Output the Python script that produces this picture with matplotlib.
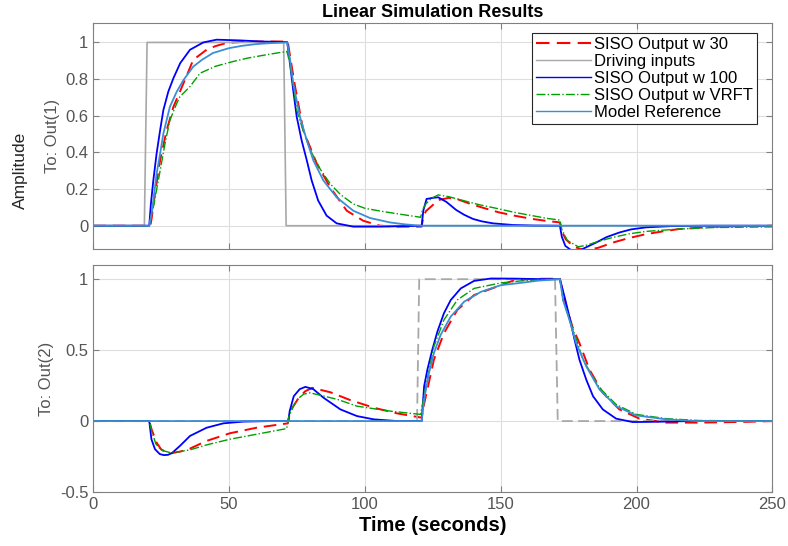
import matplotlib
matplotlib.use("Agg")
import matplotlib.pyplot as plt

plt.rcParams['font.family'] = ['Liberation Sans', 'DejaVu Sans']

# ---- Out(1) ----
t_in1 = [0, 18.8, 19.8, 70.1, 71.0, 250]
u_in1 = [0, 0, 1, 1, 0, 0]

t1_w30 = [0, 21, 21.5, 22.7, 24.6, 27, 29.5, 33.2, 36.8, 41.7, 45, 49, 54, 60, 71.6,
          72.5, 74.3, 77.3, 82.3, 87.2, 93.3, 99.4, 105.6, 112, 120.9,
          121.5, 122.5, 124.8, 127, 130.9, 134, 138.3, 143, 149.3, 155, 161.6, 167, 171.8,
          172.5, 174, 177, 181, 186, 191.3, 197, 203.5, 210, 215.8, 228, 240, 250]
y1_w30 = [0, 0, 0.042, 0.174, 0.357, 0.521, 0.649, 0.777, 0.905, 0.96, 0.98, 0.997, 1.002, 1.005, 1.005,
          0.92, 0.759, 0.521, 0.338, 0.21, 0.082, 0.027, 0.0, -0.005, -0.005,
          0.05, 0.08, 0.11, 0.14, 0.152, 0.145, 0.122, 0.1, 0.073, 0.055, 0.037, 0.026, 0.018,
          -0.03, -0.075, -0.115, -0.135, -0.12, -0.092, -0.068, -0.046, -0.03, -0.018, -0.006, -0.002, 0]

t1_w100 = [0, 20.6, 21.2, 22.1, 23.3, 24.6, 25.8, 27.6, 29.5, 32, 35.6, 40.5, 45.4, 54, 62, 71.4,
           72.4, 73.6, 74.9, 76.7, 78.6, 80.4, 82.8, 85.9, 89.6, 95.7, 105.6, 115, 120.9,
           121.5, 122.7, 125, 127, 130, 133.6, 136.5, 139.8, 143, 147.1, 154.5, 162, 171.8,
           172.5, 173.8, 176.1, 179, 185.1, 189, 193.7, 198, 203.5, 213, 225, 250]
y1_w100 = [0, 0, 0.119, 0.247, 0.393, 0.521, 0.631, 0.731, 0.805, 0.887, 0.96, 1.0, 1.015, 1.011, 1.005, 1.002,
           0.887, 0.74, 0.594, 0.466, 0.357, 0.247, 0.137, 0.055, 0.013, -0.005, -0.005, -0.002, 0,
           0.082, 0.146, 0.152, 0.155, 0.13, 0.086, 0.06, 0.037, 0.024, 0.013, 0.004, 0.001, 0,
           -0.06, -0.11, -0.135, -0.135, -0.092, -0.062, -0.037, -0.02, -0.009, -0.002, 0, 0]

t1_vrft = [0, 20.6, 21.3, 22.1, 24.6, 26.4, 28.2, 30.7, 31.9, 35.6, 39.3, 45, 51.5, 57, 63.8, 71.3,
           72.3, 73.5, 74.9, 77, 80, 83.5, 87.2, 91, 95.7, 100, 105.6, 112, 120.5,
           121.3, 122.5, 124.5, 127, 131, 136.3, 142, 149.3, 155, 161.6, 167, 171.8,
           172.5, 174.5, 178.6, 182, 186, 191.3, 197, 203.5, 215.8, 228, 250]
y1_vrft = [0, 0, 0.05, 0.1, 0.3, 0.448, 0.576, 0.667, 0.704, 0.759, 0.832, 0.87, 0.896, 0.915, 0.933, 0.951,
           0.89, 0.78, 0.631, 0.53, 0.41, 0.31, 0.229, 0.17, 0.119, 0.095, 0.08, 0.065, 0.046,
           0.09, 0.12, 0.15, 0.168, 0.158, 0.137, 0.115, 0.092, 0.073, 0.055, 0.04, 0.031,
           -0.02, -0.08, -0.115, -0.105, -0.085, -0.064, -0.045, -0.031, -0.018, -0.01, -0.006]

t1_ref = [0, 20.6, 21.5, 22.1, 23.3, 24.6, 25.8, 28.2, 30.7, 33.2, 36.8, 40, 44, 50, 55, 60, 65, 71.4,
          72.5, 73.6, 76.1, 78.6, 81, 84.7, 89.6, 95.7, 101.9, 109.2, 115, 121, 250]
y1_ref = [0, 0, 0.07, 0.137, 0.283, 0.393, 0.503, 0.649, 0.731, 0.795, 0.868, 0.905, 0.942, 0.969, 0.982,
          0.991, 0.996, 1.0, 0.9, 0.777, 0.594, 0.466, 0.357, 0.247, 0.155, 0.082, 0.042, 0.018, 0.007, 0, 0]

# ---- Out(2) ----
t_in2 = [0, 119.2, 120, 170, 171, 250]
u_in2 = [0, 0, 1, 1, 0, 0]

t2_w30 = [0, 20.6, 21.5, 23.3, 25, 27, 28.9, 32, 35.6, 41.7, 50.3, 60.1, 71.6,
          72.3, 73.5, 75.5, 78, 80.6, 87.3, 94.7, 103.3, 111.9, 120.9,
          121.8, 123, 125.4, 129.1, 134, 140.2, 150.1, 154.6, 160, 165, 171.8,
          173, 174.5, 176.5, 179, 182.7, 187.6, 193.7, 201.1, 210.9, 223.2, 241.6, 250]
y2_w30 = [0, 0, -0.06, -0.152, -0.2, -0.22, -0.226, -0.215, -0.194, -0.14, -0.086, -0.047, -0.016,
          0.05, 0.1, 0.16, 0.21, 0.234, 0.203, 0.147, 0.094, 0.054, 0.024,
          0.12, 0.222, 0.432, 0.619, 0.783, 0.888, 0.958, 0.99, 1.0, 1.003, 1.003,
          0.9, 0.783, 0.66, 0.549, 0.362, 0.199, 0.082, 0.017, -0.011, -0.011, -0.005, 0]

t2_w100 = [0, 20.6, 21.4, 22.7, 24.5, 26, 27.5, 29, 31.9, 35.6, 41.7, 47.9, 55.2, 65, 71.8,
           72.3, 73.8, 76, 78.1, 81, 84.8, 91, 97.1, 103.3, 111.9, 120.9,
           121.8, 123, 124.8, 126.7, 129.1, 131.6, 135.3, 140.2, 146.4, 155, 163, 171.8,
           173.5, 175.3, 177.2, 179, 181.5, 184, 187.6, 192.5, 198.6, 207.2, 220, 250]
y2_w100 = [0, 0, -0.128, -0.198, -0.233, -0.24, -0.238, -0.225, -0.175, -0.105, -0.047, -0.016, -0.004, 0, 0,
           0.07, 0.175, 0.225, 0.241, 0.225, 0.164, 0.082, 0.035, 0.012, 0, 0,
           0.245, 0.362, 0.502, 0.631, 0.76, 0.853, 0.935, 0.988, 1.005, 1.004, 1.001, 1.0,
           0.876, 0.736, 0.573, 0.432, 0.292, 0.175, 0.082, 0.017, -0.007, -0.005, 0, 0]

t2_vrft = [0, 20.6, 21.5, 23, 25, 28.2, 32, 35.6, 41.7, 50.3, 60.1, 71.2,
           72, 73.5, 75.5, 77.5, 79.8, 84, 90, 97.1, 103, 109.4, 120.5,
           121.5, 123, 125.4, 129.1, 134, 140.2, 150.1, 157.4, 165, 171.8,
           173, 175.3, 177.8, 180.3, 186.4, 192.5, 199.9, 210.9, 223, 250]
y2_vrft = [0, 0, -0.07, -0.16, -0.205, -0.222, -0.215, -0.203, -0.168, -0.128, -0.093, -0.053,
           0.03, 0.1, 0.16, 0.19, 0.199, 0.18, 0.152, 0.105, 0.088, 0.07, 0.047,
           0.15, 0.3, 0.526, 0.713, 0.853, 0.935, 0.974, 0.988, 0.995, 1.0,
           0.85, 0.72, 0.58, 0.432, 0.234, 0.117, 0.047, 0.017, 0.004, 0]

t2_ref = [0, 120.9, 121.8, 123.6, 125.4, 127.9, 131.6, 136.5, 142.7, 150.1, 157.4, 164, 171.8,
          173, 175.3, 177.8, 181.5, 186.4, 192.5, 199.9, 210.9, 222, 250]
y2_ref = [0, 0, 0.152, 0.339, 0.479, 0.608, 0.736, 0.841, 0.911, 0.958, 0.974, 0.99, 1.0,
          0.85, 0.713, 0.549, 0.385, 0.222, 0.105, 0.04, 0.012, 0, 0]

labels = ['SISO Output w 30', 'Driving inputs', 'SISO Output w 100',
          'SISO Output w VRFT', 'Model Reference']
c_red, c_gray, c_blue, c_green, c_ref = '#FF0000', '#A8A8A8', '#0000FF', '#00A000', '#3A8ED6'
label_gray = '#555555'
red_dash = (0, (6.5, 3.5))

fig = plt.figure(figsize=(7.88, 5.46), dpi=100)
ax1 = fig.add_axes([93.3 / 788, 1 - 249 / 546, 679 / 788, 226 / 546])
ax2 = fig.add_axes([93.3 / 788, 1 - 492 / 546, 679 / 788, 227 / 546])

def style(ax):
    ax.set_xlim(0, 250)
    ax.set_xticks([0, 50, 100, 150, 200, 250])
    ax.grid(True, color='#DEDEDE', linewidth=0.8)
    ax.set_axisbelow(True)
    ax.tick_params(direction='in', length=4, top=True, right=True,
                   colors='#808080', labelcolor=label_gray, labelsize=12)
    for s in ax.spines.values():
        s.set_color('#808080')

# top axes
ax1.plot(t1_w30, y1_w30, color=c_red, ls=red_dash, lw=1.4, label=labels[0])
ax1.plot(t_in1, u_in1, color=c_gray, lw=1.2, label=labels[1])
ax1.plot(t1_w100, y1_w100, color=c_blue, lw=1.3, label=labels[2])
ax1.plot(t1_vrft, y1_vrft, color=c_green, ls='-.', lw=1.0, label=labels[3])
ax1.plot(t1_ref, y1_ref, color=c_ref, lw=1.3, label=labels[4])
style(ax1)
ax1.set_ylim(-0.127, 1.106)
ax1.set_yticks([0, 0.2, 0.4, 0.6, 0.8, 1])
ax1.set_yticklabels(['0', '0.2', '0.4', '0.6', '0.8', '1'])
ax1.tick_params(labelbottom=False)
ax1.set_ylabel('To: Out(1)', color=label_gray, fontsize=12, labelpad=4)
ax1.set_title('Linear Simulation Results', fontsize=13, fontweight='bold', pad=4)

leg = ax1.legend(loc='upper right', bbox_to_anchor=(0.978, 0.956), borderaxespad=0,
                 fontsize=12, handlelength=3.3, handletextpad=0.2, labelspacing=0.12,
                 borderpad=0.25, fancybox=False, framealpha=1)
leg.get_frame().set_edgecolor('#262626')
leg.get_frame().set_linewidth(0.8)
# legend lines in MATLAB are thin except the dashed one
for i, ln in enumerate(leg.get_lines()):
    ln.set_linewidth(1.5 if i == 0 else 1.0)

# bottom axes
ax2.plot(t2_w30, y2_w30, color=c_red, ls=red_dash, lw=1.4)
ax2.plot(t_in2, u_in2, color=c_gray, ls=(0, (6, 3)), lw=1.3)
ax2.plot(t2_w100, y2_w100, color=c_blue, lw=1.3)
ax2.plot(t2_vrft, y2_vrft, color=c_green, ls='-.', lw=1.0)
ax2.plot(t2_ref, y2_ref, color=c_ref, lw=1.3)
style(ax2)
ax2.set_ylim(-0.5, 1.1)
ax2.set_yticks([-0.5, 0, 0.5, 1])
ax2.set_yticklabels(['-0.5', '0', '0.5', '1'])
ax2.set_ylabel('To: Out(2)', color=label_gray, fontsize=12, labelpad=4)
ax2.set_xlabel('Time (seconds)', fontsize=14.5, fontweight='bold', labelpad=3)

fig.text(20 / 788, 1 - 170 / 546, 'Amplitude', rotation=90, fontsize=12.5,
         color='#262626', ha='center', va='center')

fig.savefig('out.png', dpi=100)
